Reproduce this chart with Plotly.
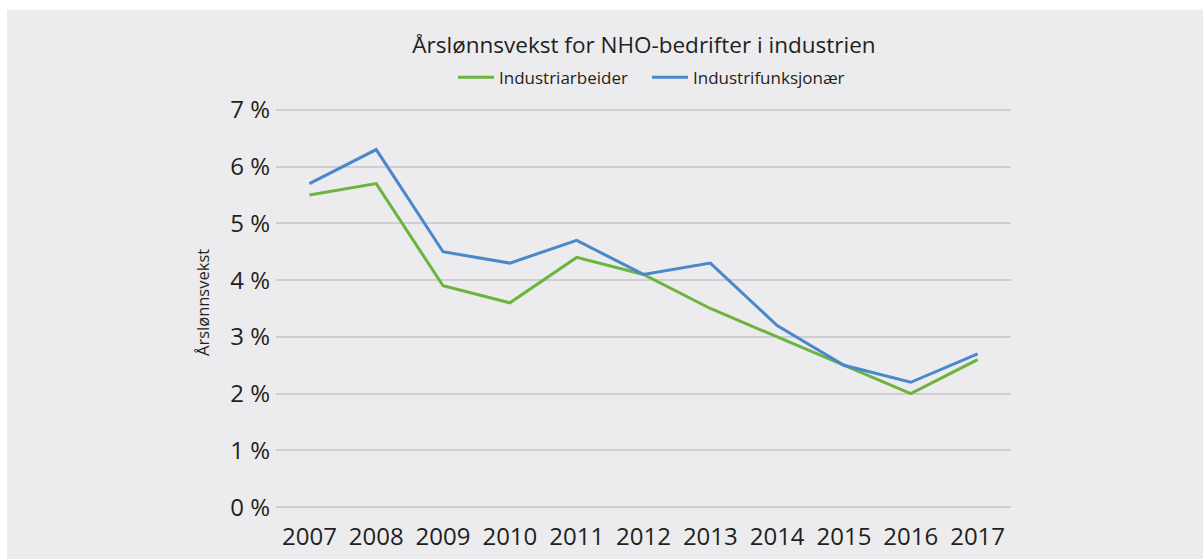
import plotly.graph_objects as go

years = ["2007", "2008", "2009", "2010", "2011", "2012", "2013", "2014", "2015", "2016", "2017"]
industriarbeider = [5.5, 5.7, 3.9, 3.6, 4.4, 4.1, 3.5, 3.0, 2.5, 2.0, 2.6]
industrifunksjonaer = [5.7, 6.3, 4.5, 4.3, 4.7, 4.1, 4.3, 3.2, 2.5, 2.2, 2.7]
y_ticks = [0, 1, 2, 3, 4, 5, 6, 7]
y_tick_labels = [f"{v} %" for v in y_ticks]

W, H = 1203, 559
PAD = 0.05                      # small extra range so the edge gridlines are drawn
Y0PIX, Y7PIX = 507, 110         # pixel rows of 0 % and 7 %
UNIT = (Y0PIX - Y7PIX) / 7.0
L, R = 276, 1011
T = Y7PIX - PAD * UNIT
B = Y0PIX + PAD * UNIT
pw, ph = R - L, B - T

def px(x):
    return (x - L) / pw

def py(y):
    return (B - y) / ph

FONT = "Open Sans"
TXT = "#231F20"

fig = go.Figure()
fig.add_trace(go.Scatter(x=years, y=industriarbeider, mode="lines", name="Industriarbeider",
                         line=dict(color="#6CB33F", width=3), legend="legend"))
fig.add_trace(go.Scatter(x=years, y=industrifunksjonaer, mode="lines", name="Industrifunksjonær",
                         line=dict(color="#4A88CB", width=3), legend="legend2"))

fig.add_shape(type="rect", xref="paper", yref="paper", layer="below",
              x0=px(7), x1=px(W + 5), y0=py(H + 5), y1=py(10),
              fillcolor="#ECECEE", line=dict(width=0))

fig.add_annotation(text="Årslønnsvekst", xref="paper", yref="paper",
                   x=px(203), y=py(303), textangle=-90, showarrow=False,
                   font=dict(family=FONT, size=16.5, color=TXT),
                   xanchor="center", yanchor="middle")

legend_common = dict(orientation="h", xanchor="left", y=py(78), yanchor="middle",
                     font=dict(family=FONT, size=17, color=TXT), bgcolor="rgba(0,0,0,0)",
                     itemwidth=36, tracegroupgap=0)

fig.update_layout(
    width=W, height=H,
    margin=dict(l=L, r=W - R, t=T, b=H - B, pad=0, autoexpand=False),
    paper_bgcolor="white",
    plot_bgcolor="rgba(0,0,0,0)",
    font=dict(family=FONT, color=TXT),
    title=dict(text="Årslønnsvekst for NHO-bedrifter i industrien",
               xref="container", x=644 / W, xanchor="center",
               yref="container", y=1 - 45 / H, yanchor="middle",
               font=dict(family=FONT, size=22.5, color=TXT)),
    legend=dict(x=px(453), **legend_common),
    legend2=dict(x=px(647), **legend_common),
    showlegend=True,
    xaxis=dict(type="category", range=[-0.5, 10.5], showgrid=False, zeroline=False,
               showline=False, ticks="", tickfont=dict(family=FONT, size=24, color=TXT),
               ticklabelstandoff=10, automargin=False),
    yaxis=dict(range=[-PAD, 7 + PAD], tickvals=y_ticks, ticktext=y_tick_labels, showgrid=True,
               gridcolor="#CFCFD1", gridwidth=1.5, zeroline=False, showline=False,
               ticks="", tickfont=dict(family=FONT, size=24, color=TXT),
               ticklabelstandoff=5, automargin=False),
)

fig.write_html("out.html", config={"displayModeBar": False},
               post_script="document.body.style.margin='0';document.body.style.padding='0';")
